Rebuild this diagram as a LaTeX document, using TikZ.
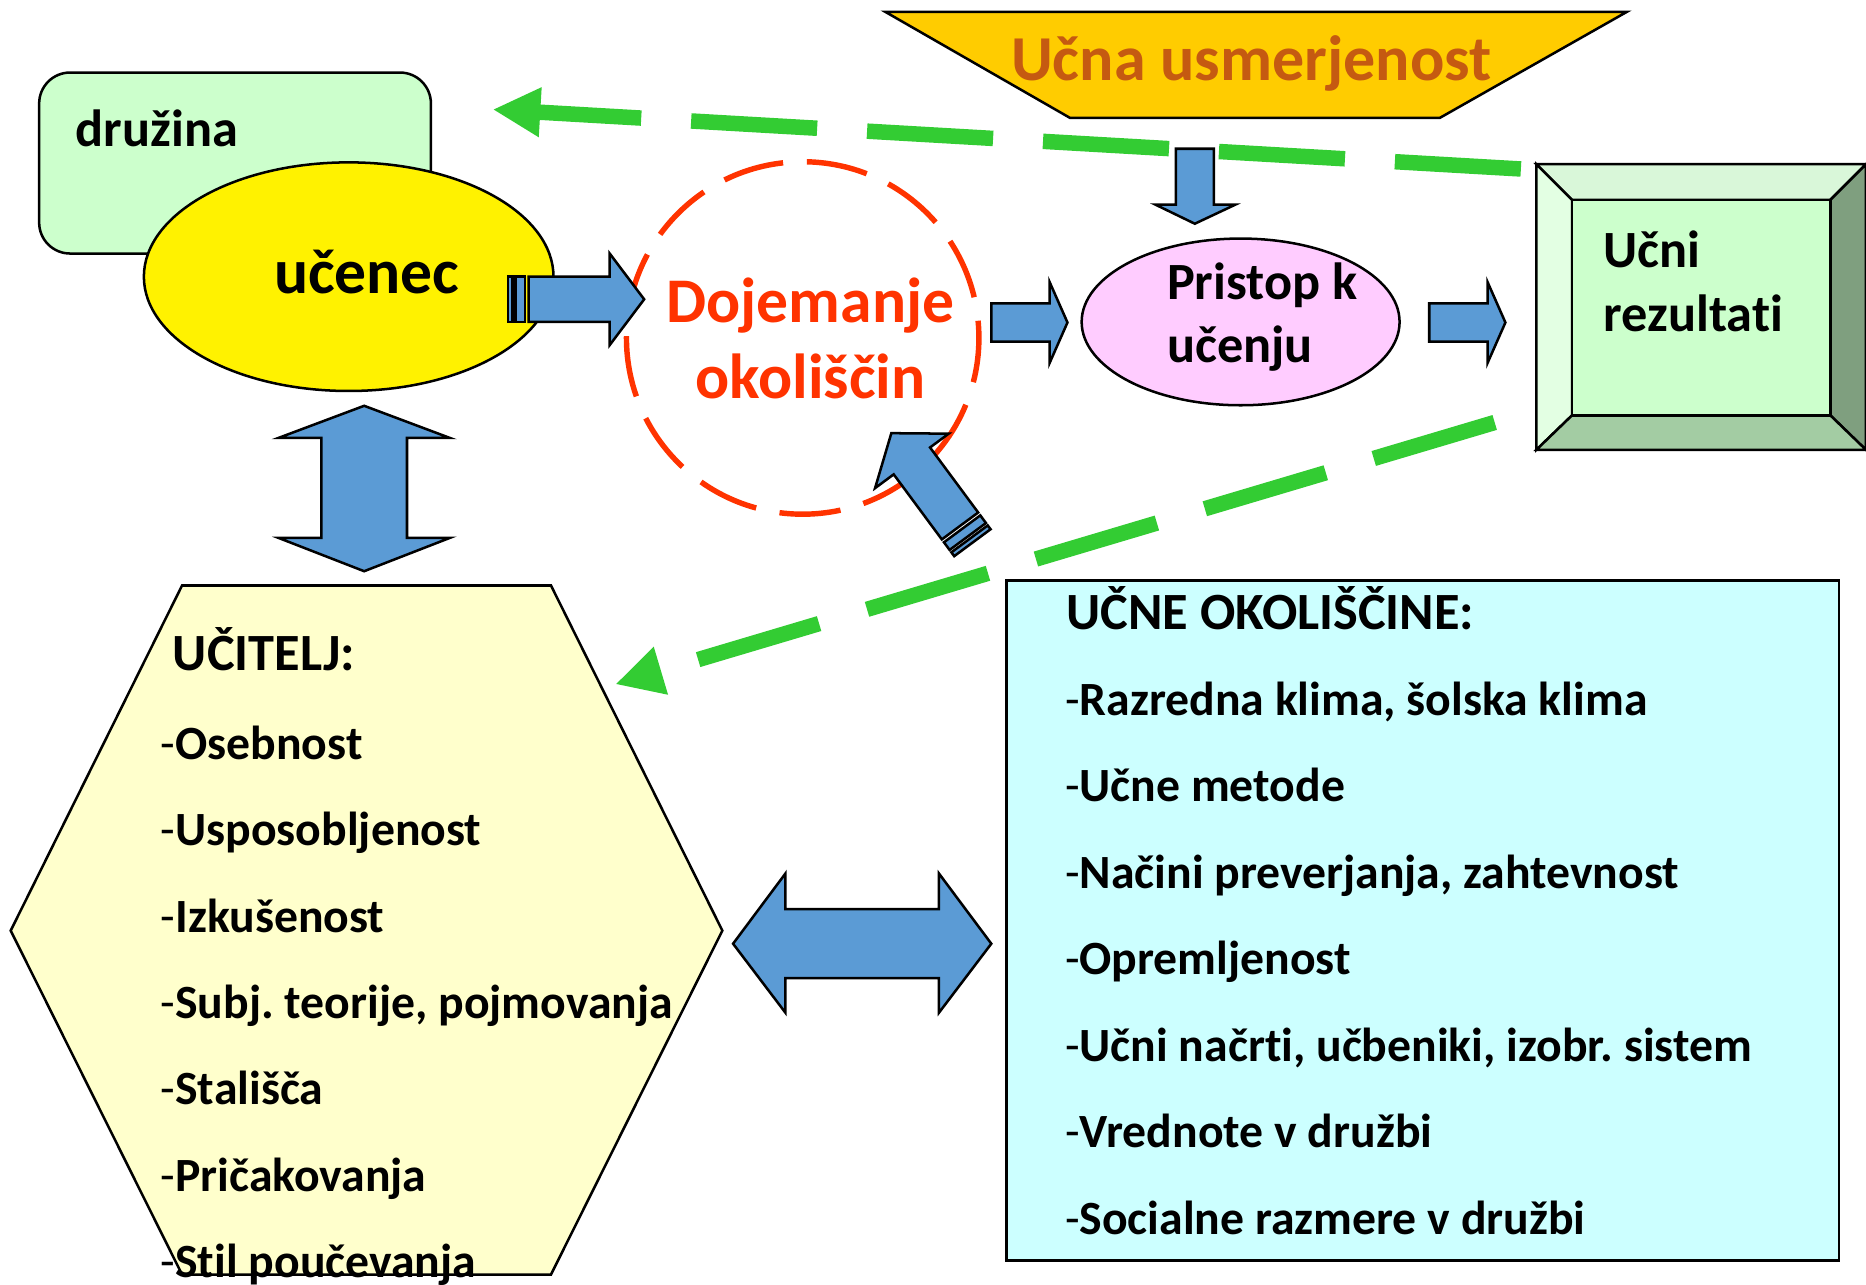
\documentclass[tikz,border=0pt]{standalone}
\usepackage{fontspec}
\setmainfont{Carlito}[Ligatures=NoCommon]
\usetikzlibrary{arrows.meta,shapes.geometric}
\frenchspacing

\definecolor{arrowblue}{HTML}{5B9BD5}
\definecolor{dashgreen}{HTML}{33CC33}
\definecolor{dojred}{HTML}{FF3300}
\definecolor{lightgreen}{HTML}{CCFFCC}
\definecolor{lightpink}{HTML}{FFCCFF}
\definecolor{lightyellow}{HTML}{FFFFCC}
\definecolor{lightcyan}{HTML}{CCFFFF}
\definecolor{gold}{HTML}{FFCC00}
\definecolor{rust}{HTML}{C55A11}
\definecolor{bevlight}{HTML}{E3FFE3}
\definecolor{bevtop}{HTML}{D9F7D9}
\definecolor{bevdark}{HTML}{7F9F7F}
\definecolor{bevbottom}{HTML}{A3CCA3}

\tikzset{
  shapeline/.style={draw=black, line width=0.6pt},
  blockarrow/.style={shapeline, fill=arrowblue},
  txt/.style={inner sep=0pt, font=\fontsize{12.5}{15}\selectfont\bfseries},
  bigtxt/.style={inner sep=0pt, font=\fontsize{15.2}{18}\selectfont\bfseries},
  item/.style={inner sep=0pt, font=\fontsize{11.4}{14}\selectfont\bfseries, anchor=base west},
  feedback/.style={dashgreen, line width=3.7pt, dash pattern=on 1.06cm off 0.42cm,
    -{Triangle[length=0.4cm,width=0.39cm]}},
  stripedarrow/.pic={
    \draw[blockarrow] (0,0) -- (-29,38.5) -- (-29,19) -- (-97,19) -- (-97,-19)
      -- (-29,-19) -- (-29,-38.5) -- cycle;
    \draw[blockarrow] (-100,-19) rectangle (-108,19);
    \draw[blockarrow] (-110.5,-19) rectangle (-114.5,19);
  }
}

\begin{document}
\begin{tikzpicture}[x=0.01cm, y=-0.01cm] % 1 unit = 1 px, y runs downwards
    \useasboundingbox (0,0) rectangle (1568,1079);
    % Druzina and ucenec
    \node[shapeline, fill=lightgreen, rounded corners=0.26cm, minimum width=3.29cm,
      minimum height=1.52cm, inner sep=0pt] (druzinabox) at (197.5,137) {};
    \node[txt, anchor=base west] (druzina) at (63,123) {družina};
    \node[shapeline, ellipse, fill=yellow, minimum width=3.44cm, minimum height=1.92cm,
      inner sep=0pt] (ucenec) at (293,232.5) {};
    \node[bigtxt, anchor=base west] (ucenectxt) at (229.6,246.4) {učenec};
    % Dojemanje okoliscin
    \node[circle, draw=dojred, line width=1.3pt, dash pattern=on 0.515cm off 0.2cm,
      dash phase=0.37cm, minimum size=2.96cm, inner sep=0pt] (dojemanje) at (674.5,284) {};
    \node[bigtxt, text=dojred, anchor=base] (doj1) at (681,271) {Dojemanje};
    \node[bigtxt, text=dojred, anchor=base] (doj2) at (681,335) {okoliščin};
    % Pristop k ucenju
    \node[shapeline, ellipse, fill=lightpink, minimum width=2.67cm, minimum height=1.40cm,
      inner sep=0pt] (pristop) at (1042.5,270.5) {};
    \node[txt, anchor=base west] (pristop1) at (980,251.5) {Pristop k};
    \node[txt, anchor=base west] (pristop2) at (980,305) {učenju};
    % Ucni rezultati (bevel)
    \draw[shapeline, fill=bevtop] (1291,138) -- (1568,138) -- (1538,168) -- (1321,168) -- cycle;
    \draw[shapeline, fill=bevlight] (1291,138) -- (1321,168) -- (1321,349) -- (1291,378) -- cycle;
    \draw[shapeline, fill=bevdark] (1568,138) -- (1568,378) -- (1538,349) -- (1538,168) -- cycle;
    \draw[shapeline, fill=bevbottom] (1291,378) -- (1321,349) -- (1538,349) -- (1568,378) -- cycle;
    \draw[shapeline, fill=lightgreen] (1321,168) rectangle (1538,349);
    \node[txt, anchor=base west] (rez1) at (1347,225) {Učni};
    \node[txt, anchor=base west] (rez2) at (1347,278.7) {rezultati};
    % Ucna usmerjenost
    \draw[shapeline, fill=gold] (744,10) -- (1367,10) -- (1210,99) -- (899,99) -- cycle;
    \node[inner sep=0pt, font=\fontsize{15.3}{18}\selectfont\bfseries, text=rust, anchor=base]
      (usmerjenost) at (1051.5,68) {Učna usmerjenost};
    % Ucitelj
    \draw[shapeline, fill=lightyellow] (153,492) -- (463,492) -- (607,782) -- (463,1071)
      -- (153,1071) -- (9,782) -- cycle;
    \node[txt, anchor=base west] (ucitelj) at (144.6,563.5) {UČITELJ:};
    \foreach \entry [count=\i] in {Osebnost, Usposobljenost, Izkušenost,
        {Subj. teorije, pojmovanja}, Stališča, Pričakovanja, Stil poučevanja}
      \node[item] (ucitelj\i) at (134.4,{638+72.6*(\i-1)}) {{\mdseries -}\entry};
    % Ucne okoliscine
    \node[shapeline, fill=lightcyan, minimum width=6.99cm, minimum height=5.71cm,
      inner sep=0pt] (okoliscine) at (1195.5,773.5) {};
    \node[txt, anchor=base west] (okoltitle) at (895.6,529) {UČNE OKOLIŠČINE:};
    \foreach \entry [count=\i] in {{Razredna klima, šolska klima}, Učne metode,
        {Načini preverjanja, zahtevnost}, Opremljenost, {Učni načrti, učbeniki, izobr. sistem},
        Vrednote v družbi, Socialne razmere v družbi}
      \node[item] (okol\i) at (894.3,{601+72.7*(\i-1)}) {{\mdseries -}\entry};
    % Feedback (green dashed)
    \coordinate (topTail) at (1278,142);
    \coordinate (topHead) at (414,92);
    \draw[feedback] (topTail) -- (topHead);
    \coordinate (botTail) at (1256,355);
    \coordinate (botHead) at (517,575);
    \draw[feedback] (botTail) -- (botHead);
    % Block arrows
    \draw[blockarrow] (833,255) -- (882,255) -- (882,237) -- (897,271) -- (882,305)
      -- (882,287) -- (833,287) -- cycle;
    \draw[blockarrow] (1201,255) -- (1250,255) -- (1250,237) -- (1265,271) -- (1250,305)
      -- (1250,287) -- (1201,287) -- cycle;
    \draw[blockarrow] (988,125) -- (1020,125) -- (1020,172) -- (1038,172) -- (1004,188)
      -- (971,172) -- (988,172) -- cycle;
    \draw[blockarrow] (306,341) -- (378,368) -- (342,368) -- (342,452) -- (378,452)
      -- (306,480) -- (234,452) -- (270,452) -- (270,368) -- (234,368) -- cycle;
    \draw[blockarrow] (616,793) -- (660,734) -- (660,764) -- (789,764) -- (789,734)
      -- (833,793) -- (789,851) -- (789,822) -- (660,822) -- (660,851) -- cycle;
    \pic at (541.3,251.5) {stripedarrow};
    \pic[rotate=126.5] at (749,364) {stripedarrow};
\end{tikzpicture}
\end{document}
